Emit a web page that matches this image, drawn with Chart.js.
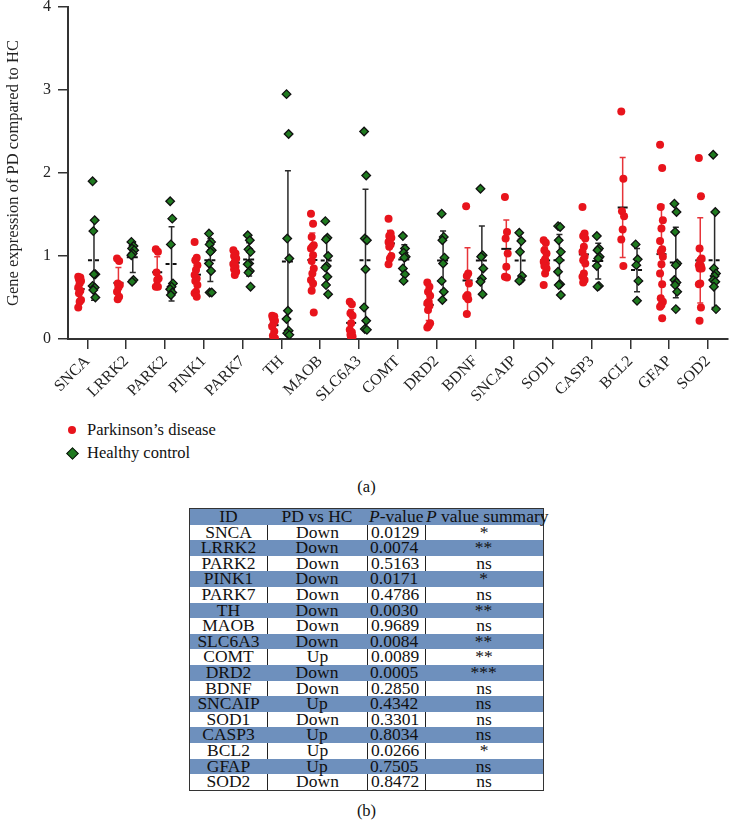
<!DOCTYPE html>
<html>
<head>
<meta charset="utf-8">
<script src="https://cdn.jsdelivr.net/npm/chart.js@4.4.1/dist/chart.umd.min.js"></script>
<style>
  body { margin: 0; background: #fff; font-family: "Liberation Serif", "DejaVu Serif", serif; color: #111; }
  #page { position: relative; width: 733px; height: 820px; overflow: hidden; }
  #chartBox { position: absolute; left: 0; top: 0; width: 733px; height: 405px; }
  #legend { position: absolute; left: 64px; top: 420px; font-size: 16.5px; }
  .legItem { height: 23px; line-height: 20px; position: relative; padding-left: 23px; }
  .dot { position: absolute; left: 4px; top: 6px; width: 8px; height: 8px; border-radius: 50%; background: #e8141c; }
  .dia { position: absolute; left: 4px; top: 6px; width: 7px; height: 7px; background: #1f7a1f; border: 1.3px solid #111; transform: rotate(45deg); }
  .caption { position: absolute; width: 733px; left: 0; text-align: center; font-size: 16.5px; }
  #tbl { position: absolute; left: 189px; top: 508px; width: 355px; border: 1.5px solid #333; box-sizing: border-box; font-size: 17.5px; }
  .row { display: flex; height: 15.6px; line-height: 15.6px; }
  .row.blue { background: #6e90bd; }
  .row div { box-sizing: border-box; white-space: nowrap; text-align: center; }
  .row.white div + div { border-left: 1px solid #222; }
  .c1 { width: 77px; } .c2 { width: 100px; } .c3 { width: 58px; text-align: left !important; padding-left: 3px; } .c4 { width: 117px; }
  .hdr .c3 { padding-left: 2px; }
  .hdr .c4 { text-align: left !important; padding-left: 1px; }
</style>
</head>
<body>
<div id="page">
  <div id="chartBox"><canvas id="exprChart"></canvas></div>
  <div id="legend"></div>
  <div class="caption" style="top:477px">(a)</div>
  <div id="tbl"></div>
  <div class="caption" style="top:801px">(b)</div>
</div>
<script>
const genes = ['SNCA','LRRK2','PARK2','PINK1','PARK7','TH','MAOB','SLC6A3','COMT','DRD2','BDNF','SNCAIP','SOD1','CASP3','BCL2','GFAP','SOD2'];

const pdValues = [
  [0.75, 0.74, 0.72, 0.70, 0.67, 0.62, 0.58, 0.55, 0.47, 0.45, 0.38],
  [0.97, 0.94, 0.67, 0.65, 0.62, 0.57, 0.51, 0.48],
  [1.08, 1.05, 0.80, 0.73, 0.71, 0.63, 0.63],
  [1.17, 0.98, 0.95, 0.89, 0.83, 0.77, 0.73, 0.70, 0.65, 0.57, 0.55, 0.51],
  [1.07, 1.03, 1.00, 0.97, 0.93, 0.90, 0.87, 0.84, 0.81, 0.77],
  [0.28, 0.27, 0.25, 0.22, 0.19, 0.15, 0.09, 0.04, 0.01],
  [1.51, 1.39, 1.23, 1.13, 1.11, 1.09, 1.01, 0.94, 0.85, 0.79, 0.71, 0.67, 0.58, 0.32],
  [0.45, 0.42, 0.31, 0.28, 0.19, 0.11, 0.08, 0.05, 0.03, 0.02],
  [1.45, 1.27, 1.24, 1.22, 1.20, 1.17, 1.14, 1.11, 1.00, 0.97, 0.90],
  [0.68, 0.63, 0.57, 0.52, 0.45, 0.43, 0.40, 0.35, 0.19, 0.16, 0.14],
  [1.60, 0.79, 0.76, 0.67, 0.53, 0.51, 0.48, 0.30],
  [1.71, 1.29, 1.21, 1.03, 0.87, 0.75, 0.74],
  [1.19, 1.16, 1.07, 1.03, 0.96, 0.93, 0.91, 0.88, 0.85, 0.79, 0.65],
  [1.59, 1.27, 1.24, 1.21, 1.11, 1.05, 0.99, 0.95, 0.91, 0.79, 0.75, 0.71, 0.68],
  [2.74, 1.93, 1.54, 1.48, 1.32, 1.20, 0.88],
  [2.34, 2.06, 1.59, 1.43, 1.33, 1.18, 1.08, 1.05, 0.99, 0.90, 0.79, 0.66, 0.49, 0.45, 0.41, 0.39, 0.25],
  [2.18, 1.72, 1.09, 0.97, 0.95, 0.89, 0.88, 0.85, 0.85, 0.67, 0.66, 0.38, 0.22]
];

const hcValues = [
  [1.90, 1.43, 1.30, 0.78, 0.78, 0.64, 0.62, 0.59, 0.50],
  [1.17, 1.12, 1.09, 1.07, 1.03, 1.01, 0.71, 0.69],
  [1.66, 1.45, 1.14, 0.67, 0.63, 0.60, 0.56, 0.53],
  [1.27, 1.17, 1.14, 1.07, 1.05, 0.91, 0.82, 0.56, 0.56],
  [1.25, 1.19, 1.08, 1.05, 0.91, 0.90, 0.82, 0.80, 0.63],
  [2.95, 2.47, 1.21, 0.97, 0.34, 0.24, 0.10, 0.07, 0.05],
  [1.42, 1.22, 1.20, 1.00, 0.88, 0.86, 0.75, 0.65, 0.54],
  [2.50, 1.97, 1.21, 1.19, 0.84, 0.38, 0.22, 0.12, 0.11],
  [1.24, 1.09, 1.04, 0.99, 0.98, 0.85, 0.78, 0.70],
  [1.51, 1.23, 1.19, 0.98, 0.91, 0.70, 0.57, 0.47],
  [1.81, 1.01, 0.99, 0.85, 0.73, 0.69, 0.54],
  [1.28, 1.18, 1.05, 0.76, 0.71, 0.70],
  [1.36, 1.35, 1.19, 1.05, 0.95, 0.81, 0.66, 0.65, 0.53],
  [1.24, 1.09, 1.07, 0.99, 0.97, 0.88, 0.64, 0.63],
  [1.14, 0.96, 0.89, 0.70, 0.46],
  [1.63, 1.53, 1.29, 0.91, 0.89, 0.71, 0.68, 0.65, 0.57, 0.36],
  [2.22, 1.53, 0.85, 0.79, 0.76, 0.71, 0.69, 0.63, 0.36]
];

const yTicks = [0, 1, 2, 3, 4];
const seriesNames = ['Parkinson\u2019s disease', 'Healthy control'];

// table (b)
const direction = ['Down','Down','Down','Down','Down','Down','Down','Down','Up','Down','Down','Up','Down','Up','Up','Up','Down'];
const pValues = ['0.0129','0.0074','0.5163','0.0171','0.4786','0.0030','0.9689','0.0084','0.0089','0.0005','0.2850','0.4342','0.3301','0.8034','0.0266','0.7505','0.8472'];
const pSummary = ['*','**','ns','*','ns','**','ns','**','**','***','ns','ns','ns','ns','*','ns','ns'];

const PD_SHIFT = -0.2, HC_SHIFT = 0.17;
const jitter = (j) => ((j * 3) % 5 - 2) * 0.018;

function toPoints(groups, shift) {
  const pts = [];
  groups.forEach((vals, i) => vals.forEach((v, j) => pts.push({ x: i + shift + jitter(j), y: v })));
  return pts;
}
const mean = (a) => a.reduce((s, v) => s + v, 0) / a.length;
const sd = (a) => { const m = mean(a); return Math.sqrt(a.reduce((s, v) => s + (v - m) * (v - m), 0) / (a.length - 1)); };

// mean +- SD bars and mean lines
const errorBars = {
  id: 'errorBars',
  beforeDatasetsDraw(chart) {
    const { ctx, scales: { x, y } } = chart;
    const draw = (groups, shift, color, dashed) => {
      groups.forEach((vals, i) => {
        const m = mean(vals), s = sd(vals);
        const px = x.getPixelForValue(i + shift);
        const top = y.getPixelForValue(m + s), bot = y.getPixelForValue(Math.max(m - s, 0));
        ctx.save();
        ctx.strokeStyle = color;
        ctx.lineWidth = 1.5;
        ctx.beginPath();
        ctx.moveTo(px, top); ctx.lineTo(px, bot);
        ctx.moveTo(px - 3, top); ctx.lineTo(px + 3, top);
        ctx.moveTo(px - 3, bot); ctx.lineTo(px + 3, bot);
        ctx.stroke();
        const pm = y.getPixelForValue(m);
        ctx.strokeStyle = '#111';
        ctx.lineWidth = 2;
        if (dashed) ctx.setLineDash([4, 3]);
        ctx.beginPath();
        ctx.moveTo(px - (dashed ? 6 : 5), pm); ctx.lineTo(px + (dashed ? 6 : 5), pm);
        ctx.stroke();
        ctx.restore();
      });
    };
    draw(pdValues, PD_SHIFT, 'rgba(228,30,36,0.9)', false);
    draw(hcValues, HC_SHIFT, '#2a2a2a', true);
  }
};

const axisFont = { family: '"Liberation Serif", serif', size: 16 };

new Chart(document.getElementById('exprChart'), {
  type: 'scatter',
  data: {
    datasets: [
      {
        label: seriesNames[0],
        data: toPoints(pdValues, PD_SHIFT),
        pointStyle: 'circle',
        pointRadius: 4,
        backgroundColor: '#e8141c',
        borderWidth: 0
      },
      {
        label: seriesNames[1],
        data: toPoints(hcValues, HC_SHIFT),
        pointStyle: 'rectRot',
        pointRadius: 4.3,
        backgroundColor: '#1f7a1f',
        borderColor: '#111',
        borderWidth: 1.3
      }
    ]
  },
  options: {
    responsive: true,
    maintainAspectRatio: false,
    animation: false,
    layout: { padding: { top: 7, right: 0, left: 0, bottom: 0 } },
    plugins: { legend: { display: false }, tooltip: { enabled: false } },
    scales: {
      x: {
        type: 'linear',
        min: -0.5,
        max: genes.length - 0.5,
        afterBuildTicks: (scale) => { scale.ticks = genes.map((g, i) => ({ value: i })); },
        afterFit: (scale) => { scale.height = 66; },
        ticks: {
          autoSkip: false,
          minRotation: 45,
          maxRotation: 45,
          color: '#222',
          font: axisFont,
          padding: 3,
          callback: (v, idx) => genes[idx]
        },
        grid: { drawOnChartArea: false, drawTicks: true, tickLength: 10, color: '#333', lineWidth: 1.5 },
        border: { display: true, color: '#333', width: 2 }
      },
      y: {
        min: 0,
        max: 4,
        afterBuildTicks: (scale) => { scale.ticks = yTicks.map((v) => ({ value: v })); },
        afterFit: (scale) => { scale.width = 68; scale.paddingTop = 0; scale.paddingBottom = 0; },
        ticks: { color: '#222', font: axisFont, padding: 7 },
        grid: { drawOnChartArea: false, drawTicks: true, tickLength: 10, color: '#333', lineWidth: 1.5 },
        border: { display: true, color: '#333', width: 2 },
        title: {
          display: true,
          text: 'Gene expression of PD compared to HC',
          color: '#222',
          font: { family: '"Liberation Serif", serif', size: 16.5 },
          padding: { top: 4, bottom: 0 }
        }
      }
    }
  },
  plugins: [errorBars]
});

// legend
const legend = document.getElementById('legend');
seriesNames.forEach((name, k) => {
  const item = document.createElement('div');
  item.className = 'legItem';
  item.innerHTML = '<span class="' + (k === 0 ? 'dot' : 'dia') + '"></span>';
  item.appendChild(document.createTextNode(name));
  legend.appendChild(item);
});

// table
const tbl = document.getElementById('tbl');
function addRow(cells, cls) {
  const row = document.createElement('div');
  row.className = 'row ' + cls;
  cells.forEach((c, k) => {
    const d = document.createElement('div');
    d.className = 'c' + (k + 1);
    d.innerHTML = c;
    row.appendChild(d);
  });
  tbl.appendChild(row);
}
addRow(['ID', 'PD vs HC', '<i>P</i>-value', '<i>P</i> value summary'], 'blue hdr');
genes.forEach((g, i) => {
  addRow([g, direction[i], pValues[i], pSummary[i]], i % 2 === 0 ? 'white' : 'blue');
});
</script>
</body>
</html>
